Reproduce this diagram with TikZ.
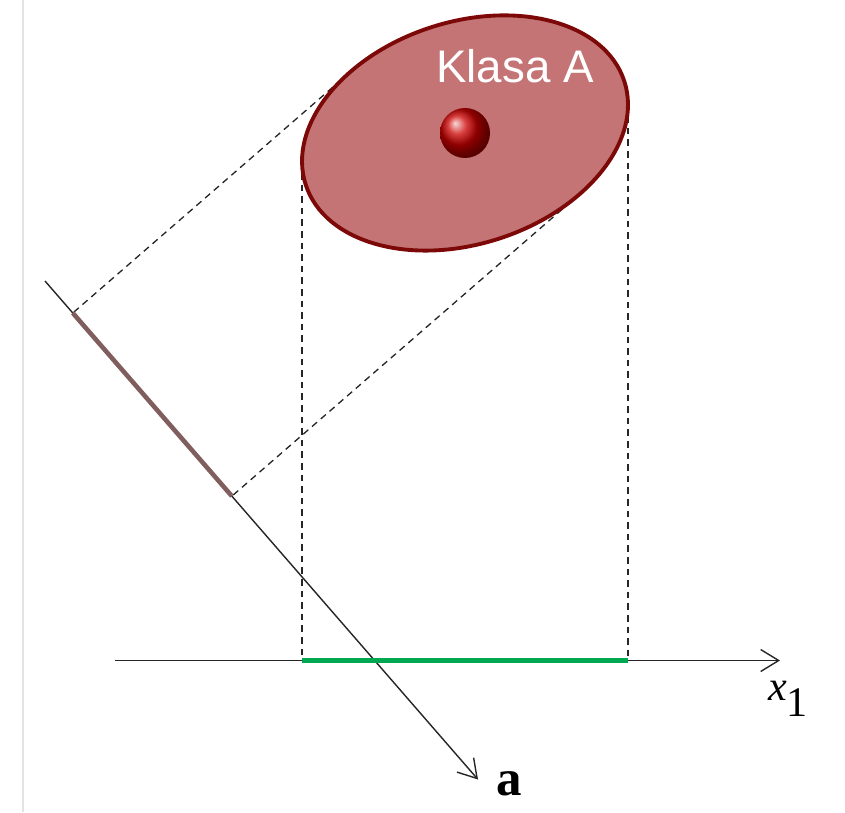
\documentclass[tikz,border=0pt]{standalone}
\usepackage{fontspec}
\newfontfamily\sansfont{Liberation Sans}
\newfontfamily\timesfont{Liberation Serif}
\usetikzlibrary{arrows.meta, calc}
\definecolor{classfill}{RGB}{196,116,116}
\definecolor{classdraw}{RGB}{125,8,8}
\definecolor{projbrown}{RGB}{128,94,94}
\definecolor{projgreen}{RGB}{0,168,82}
\begin{document}
\begin{tikzpicture}[
    axis/.style={-{Straight Barb[length=3.6mm, width=4.4mm]}, line width=0.8pt, draw=black!85},
    projline/.style={dash pattern=on 3.8pt off 2.8pt, line width=0.75pt, draw=black!85},
    classA/.style={draw=classdraw, fill=classfill, line width=2.2pt},
    brownseg/.style={draw=projbrown, line width=2.6pt},
    greenseg/.style={draw=projgreen, line width=3.4pt},
    label/.style={font=\timesfont\fontsize{24}{26}\selectfont, text=black},
    classlabel/.style={font=\sansfont\fontsize{26}{28}\selectfont, text=white}
]
\useasboundingbox (0,0) rectangle (16.9,16.24);

% Frame edge
\draw[gray!22, line width=1pt] (0.46,0) -- (0.46,16.24);

% Axes
\coordinate (x0) at (2.3,3.03);
\coordinate (x1) at (15.6,3.03);
\coordinate (a0) at (0.9,10.62);
\coordinate (a1) at (9.56,0.65);

% Class centre and tangent points
\coordinate (c) at (9.3,13.58);
\coordinate (tl) at (6.041,13.012);
\coordinate (tr) at (12.559,14.148);
\coordinate (t1) at (7.005,14.800);
\coordinate (t2) at (11.595,12.360);

% Feet of the projections
\coordinate (fl) at ($(x0)!(tl)!(x1)$);
\coordinate (fr) at ($(x0)!(tr)!(x1)$);
\coordinate (s1) at ($(a0)!(t1)!(a1)$);
\coordinate (s2) at ($(a0)!(t2)!(a1)$);

% Projection lines
\draw[projline] (tl) -- (fl);
\draw[projline] (tr) -- (fr);
\draw[projline] (t1) -- (s1);
\draw[projline] (t2) -- (s2);

% Class A
\draw[classA, rotate around={18:(c)}] (c) ellipse [x radius=3.35, y radius=2.22];
\shade[ball color=red!80!black] (c) circle (0.5);
\node[classlabel] (klasa) at (10.3,14.92) {Klasa A};

% Axes and projected segments
\draw[axis] (x0) -- (x1);
\draw[axis] (a0) -- (a1);
\draw[brownseg] (s1) -- (s2);
\draw[greenseg] (fl) -- (fr);

% Axis labels
\node[label] (xlabel) at ($(x1)+(0.16,-0.76)$) {{\itshape x}\raisebox{-9pt}{1}};
\node[label, font=\timesfont\bfseries\fontsize{29}{31}\selectfont] (alabel) at ($(a1)+(0.62,-0.08)$) {a};

\end{tikzpicture}
\end{document}
